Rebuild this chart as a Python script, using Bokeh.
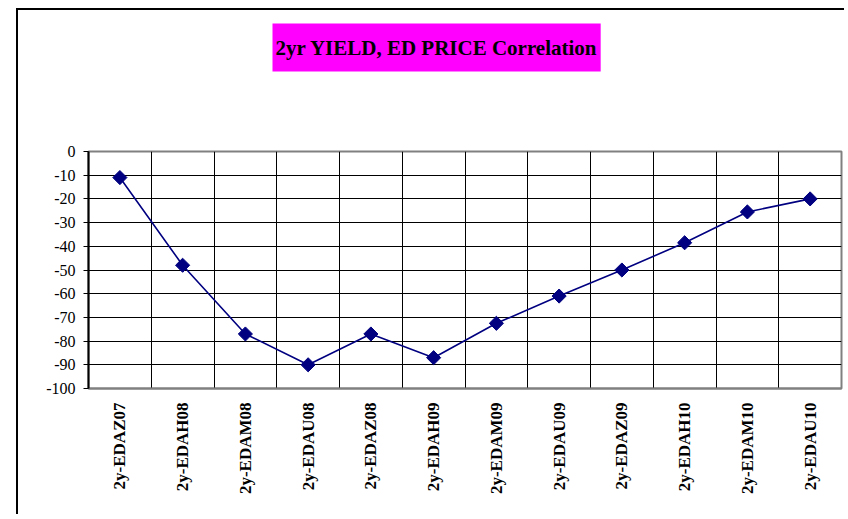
import numpy as np
from bokeh.plotting import figure
from bokeh.models import FixedTicker, Range1d, Title
from bokeh.embed import file_html
from bokeh.resources import INLINE

# ---- data ----
categories = ["2y-EDAZ07", "2y-EDAH08", "2y-EDAM08", "2y-EDAU08", "2y-EDAZ08", "2y-EDAH09",
              "2y-EDAM09", "2y-EDAU09", "2y-EDAZ09", "2y-EDAH10", "2y-EDAM10", "2y-EDAU10"]
correlation = [-11, -48, -77, -90, -77, -87, -72.5, -61, -50, -38.5, -25.5, -20]
y_ticks = [0, -10, -20, -30, -40, -50, -60, -70, -80, -90, -100]
title_text = "2yr YIELD, ED PRICE Correlation"

n = len(categories)
xs = np.arange(n) + 0.5

p = figure(width=828, height=506, output_backend="svg", toolbar_location=None,
           x_range=Range1d(0, n), y_range=Range1d(min(y_ticks), max(y_ticks)),
           min_border_left=70, min_border_right=5, min_border_top=141, min_border_bottom=128)
p.styles = {"border-left": "2px solid black", "border-top": "2px solid black"}
p.margin = (8, 0, 0, 16)

# spacer between the plot area and the title box
spacer = Title(text=" ", text_font_size="10px", standoff=67)
p.add_layout(spacer, "above")

p.title.text = title_text
p.title.align = "left"
p.title.text_font = "Liberation Serif"
p.title.text_font_style = "bold"
p.title.text_font_size = "21px"
p.title.text_color = "black"
p.title.background_fill_color = "#FF00FF"
p.title.padding = {"left": 3, "right": 3, "top": 12, "bottom": 12}
p.title.offset = 184
p.title.standoff = 0

p.background_fill_color = "white"
p.border_fill_color = "white"
p.outline_line_color = "#808080"
p.outline_line_width = 2

# grids
p.ygrid.ticker = FixedTicker(ticks=y_ticks)
p.ygrid.grid_line_color = "black"
p.ygrid.grid_line_width = 1
p.xgrid.ticker = FixedTicker(ticks=list(range(1, n)))
p.xgrid.grid_line_color = "black"
p.xgrid.grid_line_width = 1

# y axis
p.yaxis.ticker = FixedTicker(ticks=y_ticks)
p.yaxis.major_label_overrides = {t: str(t) for t in y_ticks}
p.yaxis.axis_line_color = "black"
p.yaxis.axis_line_width = 2
p.yaxis.major_tick_out = 5
p.yaxis.major_tick_in = 0
p.yaxis.minor_tick_line_color = None
p.yaxis.major_label_text_font = "Liberation Serif"
p.yaxis.major_label_text_font_size = "16px"
p.yaxis.major_label_text_color = "black"
p.yaxis.major_label_standoff = 8

# x axis
p.xaxis.ticker = FixedTicker(ticks=list(xs))
p.xaxis.major_label_overrides = {float(x): c for x, c in zip(xs, categories)}
p.xaxis.axis_line_color = "#808080"
p.xaxis.axis_line_width = 2
p.xaxis.major_tick_out = 0
p.xaxis.major_tick_in = 0
p.xaxis.minor_tick_line_color = None
p.xaxis.major_label_orientation = np.pi / 2
p.xaxis.major_label_text_font = "Liberation Serif"
p.xaxis.major_label_text_font_style = "bold"
p.xaxis.major_label_text_font_size = "17px"
p.xaxis.major_label_text_color = "black"
p.xaxis.major_label_standoff = 14

p.line(xs, correlation, line_color="#000080", line_width=1.6)
p.scatter(xs, correlation, marker="square", angle=np.pi / 4, size=10,
          fill_color="#000080", line_color="#000080")

open("out.html", "w").write(file_html(p, INLINE))
